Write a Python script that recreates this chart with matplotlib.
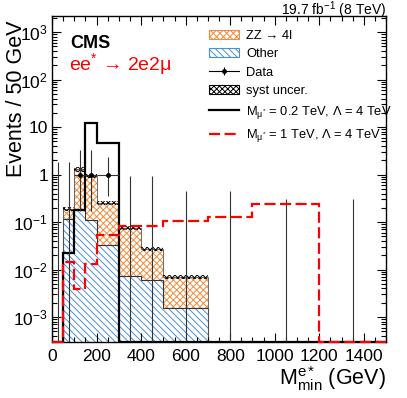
import numpy as np
import matplotlib
matplotlib.use('Agg')
from matplotlib import pyplot as plt
from matplotlib.patches import Patch
from matplotlib.lines import Line2D
from matplotlib.ticker import MultipleLocator, LogLocator, FuncFormatter, NullFormatter

# bin edges in GeV (same binning for all histograms)
edges = [0, 50, 100, 150, 200, 300, 400, 500, 700, 900, 1200, 1500]

# backgrounds (events / 50 GeV)
other = [0, 0.116, 0.18, 0.112, 0.033, 0.0074, 0.0059, 0.00154, 0, 0, 0]
zz = [0, 0.074, 1.11, 0.84, 0.217, 0.0676, 0.0216, 0.0054, 0, 0, 0]

# signals
sig_02 = [0, 0.022, 0.18, 12.2, 4.7, 0, 0, 0, 0, 0, 0]
sig_1 = [0, 0.0145, 0.0039, 0.013, 0.054, 0.083, 0.081, 0.103, 0.13, 0.245, 0]

# data with asymmetric poisson errors
data = [0, 0, 1, 1, 1, 0, 0, 0, 0, 0, 0]
data_lo = [0, 0, 0.83, 0.83, 0.645, 0, 0, 0, 0, 0, 0]
data_hi = [1.84, 1.84, 2.3, 2.3, 1.32, 0.92, 0.92, 0.46, 0.46, 0.31, 0.31]

syst_frac = 0.1
y_range = (3e-4, 2200)
x_range = (0, 1500)

orange = '#f28c3c'
blue = '#4a90d9'


def main():
    plt.rcParams['font.family'] = ['Liberation Sans', 'DejaVu Sans']
    plt.rcParams['mathtext.fontset'] = 'custom'
    plt.rcParams['mathtext.rm'] = 'Liberation Sans'
    plt.rcParams['mathtext.it'] = 'Liberation Sans:italic'
    plt.rcParams['mathtext.bf'] = 'Liberation Sans:bold'
    plt.rcParams['mathtext.default'] = 'regular'
    plt.rcParams['hatch.linewidth'] = 0.7

    fig = plt.figure(figsize=(4.07, 3.98), dpi=100)
    ax = fig.add_axes([0.128, 0.141, 0.8206, 0.819])
    ax.set_yscale('log', nonpositive='clip')

    ymin = y_range[0]
    e = np.array(edges, dtype=float)
    oth = np.array(other)
    tot = oth + np.array(zz)

    # stacked backgrounds
    ax.stairs(np.clip(oth, ymin, None), e, baseline=ymin, fill=True,
              facecolor='none', edgecolor=blue, hatch='\\\\\\\\\\', linewidth=0)
    ax.stairs(np.clip(tot, ymin, None), e, baseline=np.clip(oth, ymin, None), fill=True,
              facecolor='none', edgecolor=orange, hatch='xxxxx', linewidth=0)
    ax.stairs(np.clip(oth, ymin, None), e, baseline=None, color='#333333', linewidth=0.8)
    ax.stairs(np.clip(tot, ymin, None), e, baseline=None, color='#555555', linewidth=0.6)

    # syst band
    ax.stairs(np.clip(tot * (1 + syst_frac), ymin, None), e,
              baseline=np.clip(tot * (1 - syst_frac), ymin, None), fill=True,
              facecolor='none', edgecolor='black', hatch='xxxxxx', linewidth=0)

    # data
    centers = 0.5 * (e[1:] + e[:-1])
    half = 0.5 * (e[1:] - e[:-1])
    d = np.array(data, dtype=float)
    xerr = np.where(d > 0, half, 0)
    ax.errorbar(centers, d, yerr=[data_lo, data_hi], xerr=xerr, fmt='o',
                color='black', ecolor='#333333', markersize=2.5,
                elinewidth=0.8, capsize=0)

    # signals
    ax.stairs(np.clip(sig_02, ymin, None), e, baseline=None, color='black', linewidth=1.6)
    ax.stairs(np.clip(sig_1, ymin, None), e, baseline=None, color='#ff0000', linewidth=1.6,
              linestyle=(0, (5, 2)), zorder=3, clip_on=False)

    ax.set_xlim(*x_range)
    ax.set_ylim(*y_range)

    ax.xaxis.set_major_locator(MultipleLocator(200))
    ax.xaxis.set_minor_locator(MultipleLocator(50))
    ax.yaxis.set_major_locator(LogLocator(base=10, numticks=20))
    ax.yaxis.set_minor_locator(LogLocator(base=10, subs=np.arange(2, 10), numticks=20))
    ax.yaxis.set_minor_formatter(NullFormatter())

    def yfmt(v, pos):
        p = int(round(np.log10(v)))
        if p == 0:
            return '1'
        if p == 1:
            return '10'
        return r'$10^{%d}$' % p

    ax.yaxis.set_major_formatter(FuncFormatter(yfmt))
    ax.tick_params(which='both', direction='in', top=True, right=True, labelsize=12.5)
    ax.tick_params(which='major', length=6.5, width=0.8)
    ax.tick_params(which='minor', length=3.5, width=0.8)
    ax.tick_params(axis='x', which='major', pad=5)
    ax.tick_params(axis='y', which='major', pad=3)
    for s in ax.spines.values():
        s.set_linewidth(1.0)

    ax.set_xlabel(r'M$^{e*}_{min}$ (GeV)', fontsize=15.5, loc='right')
    ax.xaxis.set_label_coords(1.0, -0.067)
    ax.set_ylabel('Events / 50 GeV', fontsize=15.5, loc='top')
    ax.yaxis.set_label_coords(-0.076, 0.985)

    ax.text(1.0, 1.004, r'19.7 fb$^{-1}$ (8 TeV)', transform=ax.transAxes,
            ha='right', va='baseline', fontsize=10)
    ax.text(0.054, 0.902, 'CMS', transform=ax.transAxes, fontsize=13,
            fontweight='bold', ha='left', va='baseline')
    ax.text(0.05, 0.834, 'ee$^{*}$ → 2e2μ', transform=ax.transAxes,
            fontsize=14, color='#ff0000', ha='left', va='baseline')

    data_handle = (Line2D([], [], color='black', linewidth=0.8, marker='o', markersize=2.5),
                   Line2D([], [], color='black', linestyle='none', marker='|', markersize=6,
                          markeredgewidth=0.8))
    handles = [
        Patch(facecolor='white', edgecolor=orange, hatch='xxxxx', linewidth=0.8),
        Patch(facecolor='white', edgecolor=blue, hatch='\\\\\\\\\\', linewidth=0.8),
        data_handle,
        Patch(facecolor='white', edgecolor='black', hatch='xxxxxx', linewidth=0.8),
        Line2D([], [], color='black', linewidth=1.6),
        Line2D([], [], color='#ff0000', linewidth=1.6, linestyle=(0, (5, 2))),
    ]
    labels = ['ZZ → 4l', 'Other', 'Data', 'syst uncer.',
              r'M$_{\mu^{*}}$ = 0.2 TeV, Λ = 4 TeV',
              r'M$_{\mu^{*}}$ = 1 TeV, Λ = 4 TeV']
    ax.legend(handles, labels, loc='upper left', bbox_to_anchor=(0.47, 0.957),
              frameon=False, fontsize=9.3, borderpad=0, borderaxespad=0,
              handlelength=2.3, handletextpad=0.55, labelspacing=0.5)

    fig.savefig('out.png', dpi=100)


if __name__ == "__main__":
    main()
